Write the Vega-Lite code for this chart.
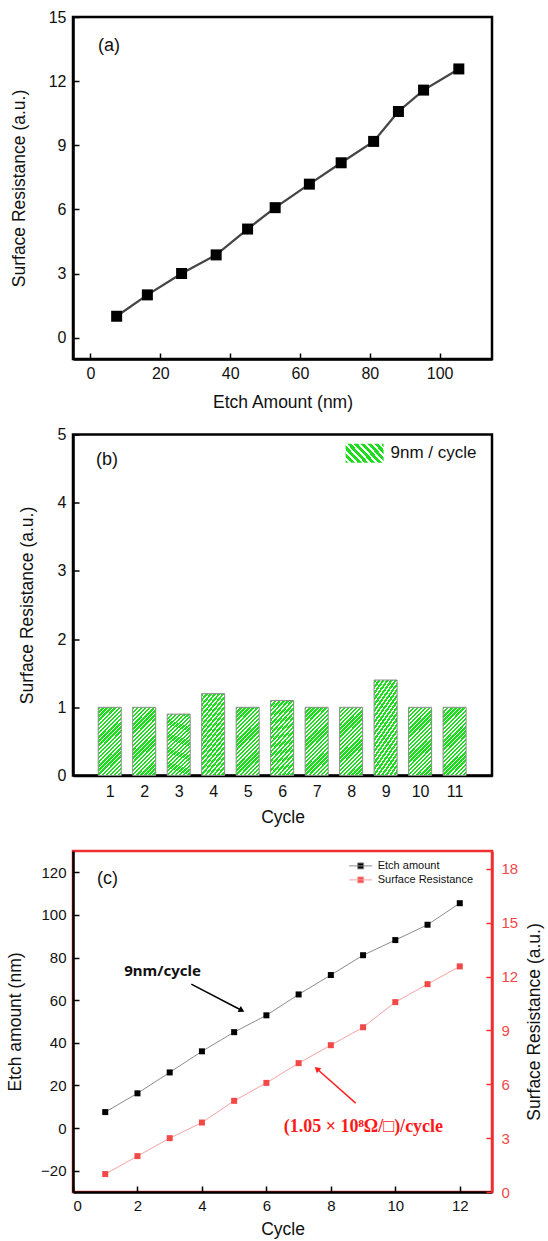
{
  "$schema": "https://vega.github.io/schema/vega-lite/v6.json",
  "background": "white",
  "padding": {"left": 5, "top": 7, "right": 0, "bottom": 0},
  "bounds": "flush",
  "spacing": 75.5,
  "resolve": {
    "scale": {"color": "independent", "stroke": "independent", "opacity": "independent"},
    "legend": {"color": "independent", "stroke": "independent", "opacity": "independent"}
  },
  "datasets": {
    "d": [
      {"cycle": 1, "etch": 7.5, "resistance": 1.0},
      {"cycle": 2, "etch": 16.3, "resistance": 2.0},
      {"cycle": 3, "etch": 26.1, "resistance": 3.0},
      {"cycle": 4, "etch": 36.0, "resistance": 3.87},
      {"cycle": 5, "etch": 45.0, "resistance": 5.08},
      {"cycle": 6, "etch": 52.9, "resistance": 6.08},
      {"cycle": 7, "etch": 62.7, "resistance": 7.18},
      {"cycle": 8, "etch": 71.8, "resistance": 8.18},
      {"cycle": 9, "etch": 81.1, "resistance": 9.18},
      {"cycle": 10, "etch": 88.2, "resistance": 10.58},
      {"cycle": 11, "etch": 95.4, "resistance": 11.58},
      {"cycle": 12, "etch": 105.5, "resistance": 12.57}
    ],
    "bars": [
      {"cycle": 1, "value": 1.0, "series": "9nm / cycle"},
      {"cycle": 2, "value": 1.0, "series": "9nm / cycle"},
      {"cycle": 3, "value": 0.9, "series": "9nm / cycle"},
      {"cycle": 4, "value": 1.2, "series": "9nm / cycle"},
      {"cycle": 5, "value": 1.0, "series": "9nm / cycle"},
      {"cycle": 6, "value": 1.1, "series": "9nm / cycle"},
      {"cycle": 7, "value": 1.0, "series": "9nm / cycle"},
      {"cycle": 8, "value": 1.0, "series": "9nm / cycle"},
      {"cycle": 9, "value": 1.4, "series": "9nm / cycle"},
      {"cycle": 10, "value": 1.0, "series": "9nm / cycle"},
      {"cycle": 11, "value": 1.0, "series": "9nm / cycle"}
    ]
  },
  "config": {
    "font": "Liberation Sans",
    "view": {"stroke": "black", "strokeWidth": 2.5},
    "axis": {
      "grid": false,
      "domainColor": "black",
      "domainWidth": 2.5,
      "tickColor": "black",
      "tickWidth": 1.5,
      "tickSize": -6,
      "labelPadding": 12,
      "labelFont": "Liberation Sans",
      "labelFontSize": 16,
      "labelColor": "#111111",
      "titleFont": "Liberation Sans",
      "titleFontSize": 17.5,
      "titleFontWeight": "normal",
      "titleColor": "#111111"
    },
    "axisY": {"labelPadding": 13, "titlePadding": 20}
  },
  "vconcat": [
    {
      "width": 419,
      "height": 342,
      "layer": [
        {
          "data": {"name": "d"},
          "mark": {"type": "line", "color": "#454545", "strokeWidth": 2.3},
          "encoding": {
            "x": {"field": "etch", "type": "quantitative", "scale": {"domain": [-5, 115], "nice": false, "zero": false}, "axis": {"values": [0, 20, 40, 60, 80, 100], "title": "Etch Amount (nm)", "titlePadding": 12}},
            "y": {"field": "resistance", "type": "quantitative", "scale": {"domain": [-1, 15], "nice": false, "zero": false}, "axis": {"values": [0, 3, 6, 9, 12, 15], "title": "Surface Resistance (a.u.)"}}
          }
        },
        {
          "data": {"name": "d"},
          "mark": {"type": "point", "shape": "square", "filled": true, "color": "black", "size": 121, "opacity": 1},
          "encoding": {
            "x": {"field": "etch", "type": "quantitative"},
            "y": {"field": "resistance", "type": "quantitative"}
          }
        },
        {
          "data": {"values": [{"label": "(a)", "x": 5.3, "y": 13.65}]},
          "mark": {"type": "text", "fontSize": 18, "font": "Liberation Sans", "color": "#111111"},
          "encoding": {
            "x": {"field": "x", "type": "quantitative"},
            "y": {"field": "y", "type": "quantitative"},
            "text": {"field": "label"}
          }
        }
      ]
    },
    {
      "width": 419,
      "height": 341,
      "layer": [
        {
          "data": {"name": "bars"},
          "mark": {
            "type": "bar",
            "size": 23,
            "stroke": "#8a8a8a",
            "strokeWidth": 1,
            "fill": {
              "gradient": "linear", "x1": 0, "y1": 0, "x2": 0.41, "y2": 1.2,
              "stops": [
                {"offset": 0, "color": "#1edc1e"}, {"offset": 0.02727, "color": "#1edc1e"}, {"offset": 0.02727, "color": "#ffffff"}, {"offset": 0.04545, "color": "#ffffff"},
                {"offset": 0.04545, "color": "#1edc1e"}, {"offset": 0.07273, "color": "#1edc1e"}, {"offset": 0.07273, "color": "#ffffff"}, {"offset": 0.09091, "color": "#ffffff"},
                {"offset": 0.09091, "color": "#1edc1e"}, {"offset": 0.11818, "color": "#1edc1e"}, {"offset": 0.11818, "color": "#ffffff"}, {"offset": 0.13636, "color": "#ffffff"},
                {"offset": 0.13636, "color": "#1edc1e"}, {"offset": 0.16364, "color": "#1edc1e"}, {"offset": 0.16364, "color": "#ffffff"}, {"offset": 0.18182, "color": "#ffffff"},
                {"offset": 0.18182, "color": "#1edc1e"}, {"offset": 0.20909, "color": "#1edc1e"}, {"offset": 0.20909, "color": "#ffffff"}, {"offset": 0.22727, "color": "#ffffff"},
                {"offset": 0.22727, "color": "#1edc1e"}, {"offset": 0.25455, "color": "#1edc1e"}, {"offset": 0.25455, "color": "#ffffff"}, {"offset": 0.27273, "color": "#ffffff"},
                {"offset": 0.27273, "color": "#1edc1e"}, {"offset": 0.3, "color": "#1edc1e"}, {"offset": 0.3, "color": "#ffffff"}, {"offset": 0.31818, "color": "#ffffff"},
                {"offset": 0.31818, "color": "#1edc1e"}, {"offset": 0.34545, "color": "#1edc1e"}, {"offset": 0.34545, "color": "#ffffff"}, {"offset": 0.36364, "color": "#ffffff"},
                {"offset": 0.36364, "color": "#1edc1e"}, {"offset": 0.39091, "color": "#1edc1e"}, {"offset": 0.39091, "color": "#ffffff"}, {"offset": 0.40909, "color": "#ffffff"},
                {"offset": 0.40909, "color": "#1edc1e"}, {"offset": 0.43636, "color": "#1edc1e"}, {"offset": 0.43636, "color": "#ffffff"}, {"offset": 0.45455, "color": "#ffffff"},
                {"offset": 0.45455, "color": "#1edc1e"}, {"offset": 0.48182, "color": "#1edc1e"}, {"offset": 0.48182, "color": "#ffffff"}, {"offset": 0.5, "color": "#ffffff"},
                {"offset": 0.5, "color": "#1edc1e"}, {"offset": 0.52727, "color": "#1edc1e"}, {"offset": 0.52727, "color": "#ffffff"}, {"offset": 0.54545, "color": "#ffffff"},
                {"offset": 0.54545, "color": "#1edc1e"}, {"offset": 0.57273, "color": "#1edc1e"}, {"offset": 0.57273, "color": "#ffffff"}, {"offset": 0.59091, "color": "#ffffff"},
                {"offset": 0.59091, "color": "#1edc1e"}, {"offset": 0.61818, "color": "#1edc1e"}, {"offset": 0.61818, "color": "#ffffff"}, {"offset": 0.63636, "color": "#ffffff"},
                {"offset": 0.63636, "color": "#1edc1e"}, {"offset": 0.66364, "color": "#1edc1e"}, {"offset": 0.66364, "color": "#ffffff"}, {"offset": 0.68182, "color": "#ffffff"},
                {"offset": 0.68182, "color": "#1edc1e"}, {"offset": 0.70909, "color": "#1edc1e"}, {"offset": 0.70909, "color": "#ffffff"}, {"offset": 0.72727, "color": "#ffffff"},
                {"offset": 0.72727, "color": "#1edc1e"}, {"offset": 0.75455, "color": "#1edc1e"}, {"offset": 0.75455, "color": "#ffffff"}, {"offset": 0.77273, "color": "#ffffff"},
                {"offset": 0.77273, "color": "#1edc1e"}, {"offset": 0.8, "color": "#1edc1e"}, {"offset": 0.8, "color": "#ffffff"}, {"offset": 0.81818, "color": "#ffffff"},
                {"offset": 0.81818, "color": "#1edc1e"}, {"offset": 0.84545, "color": "#1edc1e"}, {"offset": 0.84545, "color": "#ffffff"}, {"offset": 0.86364, "color": "#ffffff"},
                {"offset": 0.86364, "color": "#1edc1e"}, {"offset": 0.89091, "color": "#1edc1e"}, {"offset": 0.89091, "color": "#ffffff"}, {"offset": 0.90909, "color": "#ffffff"},
                {"offset": 0.90909, "color": "#1edc1e"}, {"offset": 0.93636, "color": "#1edc1e"}, {"offset": 0.93636, "color": "#ffffff"}, {"offset": 0.95455, "color": "#ffffff"},
                {"offset": 0.95455, "color": "#1edc1e"}, {"offset": 0.98182, "color": "#1edc1e"}, {"offset": 0.98182, "color": "#ffffff"}, {"offset": 1, "color": "#ffffff"}
              ]
            }
          },
          "encoding": {
            "x": {"field": "cycle", "type": "quantitative", "scale": {"domain": [0.08, 11.94], "nice": false, "zero": false}, "axis": {"values": [1, 2, 3, 4, 5, 6, 7, 8, 9, 10, 11], "ticks": false, "labelPadding": 8, "title": "Cycle", "titlePadding": 9, "format": "d"}},
            "y": {"field": "value", "type": "quantitative", "scale": {"domain": [0, 5], "nice": false}, "axis": {"values": [0, 1, 2, 3, 4, 5], "title": "Surface Resistance (a.u.)", "format": "d", "titlePadding": 21}},
            "opacity": {
              "field": "series", "type": "ordinal", "scale": {"range": [1]},
              "legend": {
                "title": null,
                "orient": "none",
                "legendX": 281.6,
                "legendY": 8.7,
                "padding": 0,
                "symbolType": "M-2,-1H2V1H-2Z",
                "symbolSize": 361,
                "symbolStrokeColor": "#8a8a8a",
                "symbolStrokeWidth": 1,
                "labelFont": "Liberation Sans",
                "labelFontSize": 17,
                "labelColor": "#111111",
                "labelOffset": 15.9,
                "encode": {
                  "symbols": {
                    "update": {
                      "opacity": {"value": 1},
                      "fill": {"value": {
                        "gradient": "linear", "x1": 0, "y1": 0, "x2": 1.2, "y2": 0.586,
                        "stops": [
                          {"offset": 0, "color": "#1edc1e"}, {"offset": 0.05, "color": "#1edc1e"}, {"offset": 0.05, "color": "#ffffff"}, {"offset": 0.08333, "color": "#ffffff"},
                          {"offset": 0.08333, "color": "#1edc1e"}, {"offset": 0.13333, "color": "#1edc1e"}, {"offset": 0.13333, "color": "#ffffff"}, {"offset": 0.16667, "color": "#ffffff"},
                          {"offset": 0.16667, "color": "#1edc1e"}, {"offset": 0.21667, "color": "#1edc1e"}, {"offset": 0.21667, "color": "#ffffff"}, {"offset": 0.25, "color": "#ffffff"},
                          {"offset": 0.25, "color": "#1edc1e"}, {"offset": 0.3, "color": "#1edc1e"}, {"offset": 0.3, "color": "#ffffff"}, {"offset": 0.33333, "color": "#ffffff"},
                          {"offset": 0.33333, "color": "#1edc1e"}, {"offset": 0.38333, "color": "#1edc1e"}, {"offset": 0.38333, "color": "#ffffff"}, {"offset": 0.41667, "color": "#ffffff"},
                          {"offset": 0.41667, "color": "#1edc1e"}, {"offset": 0.46667, "color": "#1edc1e"}, {"offset": 0.46667, "color": "#ffffff"}, {"offset": 0.5, "color": "#ffffff"},
                          {"offset": 0.5, "color": "#1edc1e"}, {"offset": 0.55, "color": "#1edc1e"}, {"offset": 0.55, "color": "#ffffff"}, {"offset": 0.58333, "color": "#ffffff"},
                          {"offset": 0.58333, "color": "#1edc1e"}, {"offset": 0.63333, "color": "#1edc1e"}, {"offset": 0.63333, "color": "#ffffff"}, {"offset": 0.66667, "color": "#ffffff"},
                          {"offset": 0.66667, "color": "#1edc1e"}, {"offset": 0.71667, "color": "#1edc1e"}, {"offset": 0.71667, "color": "#ffffff"}, {"offset": 0.75, "color": "#ffffff"},
                          {"offset": 0.75, "color": "#1edc1e"}, {"offset": 0.8, "color": "#1edc1e"}, {"offset": 0.8, "color": "#ffffff"}, {"offset": 0.83333, "color": "#ffffff"},
                          {"offset": 0.83333, "color": "#1edc1e"}, {"offset": 0.88333, "color": "#1edc1e"}, {"offset": 0.88333, "color": "#ffffff"}, {"offset": 0.91667, "color": "#ffffff"},
                          {"offset": 0.91667, "color": "#1edc1e"}, {"offset": 0.96667, "color": "#1edc1e"}, {"offset": 0.96667, "color": "#ffffff"}, {"offset": 1, "color": "#ffffff"}
                        ]
                      }}
                    }
                  }
                }
              }
            }
          }
        },
        {
          "data": {"values": [{"label": "(b)", "x": 0.92, "y": 4.62}]},
          "mark": {"type": "text", "fontSize": 18, "font": "Liberation Sans", "color": "#111111"},
          "encoding": {
            "x": {"field": "x", "type": "quantitative"},
            "y": {"field": "y", "type": "quantitative"},
            "text": {"field": "label"}
          }
        }
      ]
    },
    {
      "width": 419,
      "height": 341,
      "view": {"stroke": "#f03030", "strokeWidth": 2.5},
      "layer": [
        {
          "layer": [
            {
              "data": {"name": "d"},
              "transform": [{"fold": ["etch", "resistance"], "as": ["key", "value"]}, {"filter": "datum.key === 'etch'"}],
              "mark": {"type": "line", "strokeWidth": 1},
              "encoding": {
                "x": {"field": "cycle", "type": "quantitative", "scale": {"domain": [0, 13], "nice": false, "zero": false}, "axis": {"values": [0, 2, 4, 6, 8, 10, 12], "title": "Cycle", "titlePadding": 7, "labelFontSize": 15}},
                "y": {"field": "value", "type": "quantitative", "scale": {"domain": [-30, 130], "nice": false, "zero": false}, "axis": {"values": [-20, 0, 20, 40, 60, 80, 100, 120], "title": "Etch amount (nm)", "labelFontSize": 15, "titlePadding": 16}},
                "stroke": {
                  "field": "key", "type": "nominal",
                  "scale": {"domain": ["etch", "resistance"], "range": ["#8c8c8c", "#f5a3a3"]},
                  "legend": {"title": null, "orient": "none", "legendX": 281.7, "legendY": 8.9, "padding": 0, "symbolType": "M-2.1,0H2.1M-0.545,-0.545H0.545V0.545H-0.545Z", "symbolSize": 121, "symbolStrokeWidth": 1, "labelFont": "Liberation Sans", "labelFontSize": 11, "labelColor": "#111111", "labelOffset": 11, "rowPadding": 3, "labelExpr": "datum.label == 'etch' ? 'Etch amount' : 'Surface Resistance'"}
                }
              }
            },
            {
              "data": {"name": "d"},
              "transform": [{"fold": ["etch", "resistance"], "as": ["key", "value"]}, {"filter": "datum.key === 'etch'"}],
              "mark": {"type": "point", "shape": "square", "filled": true, "size": 36, "opacity": 1, "strokeWidth": 0},
              "encoding": {
                "x": {"field": "cycle", "type": "quantitative"},
                "y": {"field": "value", "type": "quantitative"},
                "color": {
                  "field": "key", "type": "nominal",
                  "scale": {"domain": ["etch", "resistance"], "range": ["#000000", "#f24848"]},
                  "legend": {"title": null, "orient": "none", "legendX": 281.7, "legendY": 8.9, "padding": 0, "symbolType": "M-2.1,0H2.1M-0.545,-0.545H0.545V0.545H-0.545Z", "symbolSize": 121, "symbolStrokeWidth": 1, "labelFont": "Liberation Sans", "labelFontSize": 11, "labelColor": "#111111", "labelOffset": 11, "rowPadding": 3, "labelExpr": "datum.label == 'etch' ? 'Etch amount' : 'Surface Resistance'"}
                }
              }
            },
            {
              "data": {"values": [{"x": 3.67, "y": 67.5, "x2": 5.21, "y2": 55.4}]},
              "mark": {"type": "rule", "color": "black", "strokeWidth": 1.5},
              "encoding": {
                "x": {"field": "x", "type": "quantitative"},
                "y": {"field": "y", "type": "quantitative"},
                "x2": {"field": "x2"},
                "y2": {"field": "y2"}
              }
            },
            {
              "data": {"values": [{"x": 5.21, "y": 55.4}]},
              "mark": {"type": "point", "shape": "triangle", "filled": true, "color": "black", "size": 45, "angle": 117.7, "opacity": 1},
              "encoding": {
                "x": {"field": "x", "type": "quantitative"},
                "y": {"field": "y", "type": "quantitative"}
              }
            },
            {
              "data": {"values": [{"x": 8.77, "y": 11.7, "x2": 7.59, "y2": 27.5}]},
              "mark": {"type": "rule", "color": "#ff2020", "strokeWidth": 1.5},
              "encoding": {
                "x": {"field": "x", "type": "quantitative"},
                "y": {"field": "y", "type": "quantitative"},
                "x2": {"field": "x2"},
                "y2": {"field": "y2"}
              }
            },
            {
              "data": {"values": [{"x": 7.59, "y": 27.5}]},
              "mark": {"type": "point", "shape": "triangle", "filled": true, "color": "#ff2020", "size": 45, "angle": 311.6, "opacity": 1},
              "encoding": {
                "x": {"field": "x", "type": "quantitative"},
                "y": {"field": "y", "type": "quantitative"}
              }
            },
            {
              "data": {"values": [{"label": "9nm/cycle", "x": 2.78, "y": 73.9}]},
              "mark": {"type": "text", "fontSize": 15, "font": "Noto Sans", "fontWeight": "bold", "color": "#111111"},
              "encoding": {
                "x": {"field": "x", "type": "quantitative"},
                "y": {"field": "y", "type": "quantitative"},
                "text": {"field": "label"}
              }
            },
            {
              "data": {"values": [{"label": "(1.05 × 10⁸Ω/□)/cycle", "x": 9.01, "y": 0.7}]},
              "mark": {"type": "text", "fontSize": 18, "font": "Liberation Serif", "fontWeight": "bold", "color": "#ff1a1a"},
              "encoding": {
                "x": {"field": "x", "type": "quantitative"},
                "y": {"field": "y", "type": "quantitative"},
                "text": {"field": "label"}
              }
            },
            {
              "data": {"values": [{"label": "(c)", "x": 1.07, "y": 117}]},
              "mark": {"type": "text", "fontSize": 18, "font": "Liberation Sans", "color": "#111111"},
              "encoding": {
                "x": {"field": "x", "type": "quantitative"},
                "y": {"field": "y", "type": "quantitative"},
                "text": {"field": "label"}
              }
            }
          ]
        },
        {
          "layer": [
            {
              "data": {"name": "d"},
              "transform": [{"fold": ["etch", "resistance"], "as": ["key", "value"]}, {"filter": "datum.key === 'resistance'"}],
              "mark": {"type": "line", "strokeWidth": 1},
              "encoding": {
                "x": {"field": "cycle", "type": "quantitative"},
                "y": {"field": "value", "type": "quantitative", "scale": {"domain": [0, 19], "nice": false, "zero": false}, "axis": {"orient": "right", "values": [0, 3, 6, 9, 12, 15, 18], "title": "Surface Resistance (a.u.)", "titleAngle": 270, "titleBaseline": "top", "titlePadding": 8, "labelFontSize": 15, "labelColor": "#f04848", "tickColor": "#f03030", "domainColor": "#f03030", "labelPadding": 15}},
                "stroke": {"field": "key", "type": "nominal"}
              }
            },
            {
              "data": {"name": "d"},
              "transform": [{"fold": ["etch", "resistance"], "as": ["key", "value"]}, {"filter": "datum.key === 'resistance'"}],
              "mark": {"type": "point", "shape": "square", "filled": true, "size": 36, "opacity": 1, "strokeWidth": 0},
              "encoding": {
                "x": {"field": "cycle", "type": "quantitative"},
                "y": {"field": "value", "type": "quantitative"},
                "color": {"field": "key", "type": "nominal"}
              }
            }
          ]
        }
      ],
      "resolve": {"scale": {"y": "independent"}}
    }
  ]
}
